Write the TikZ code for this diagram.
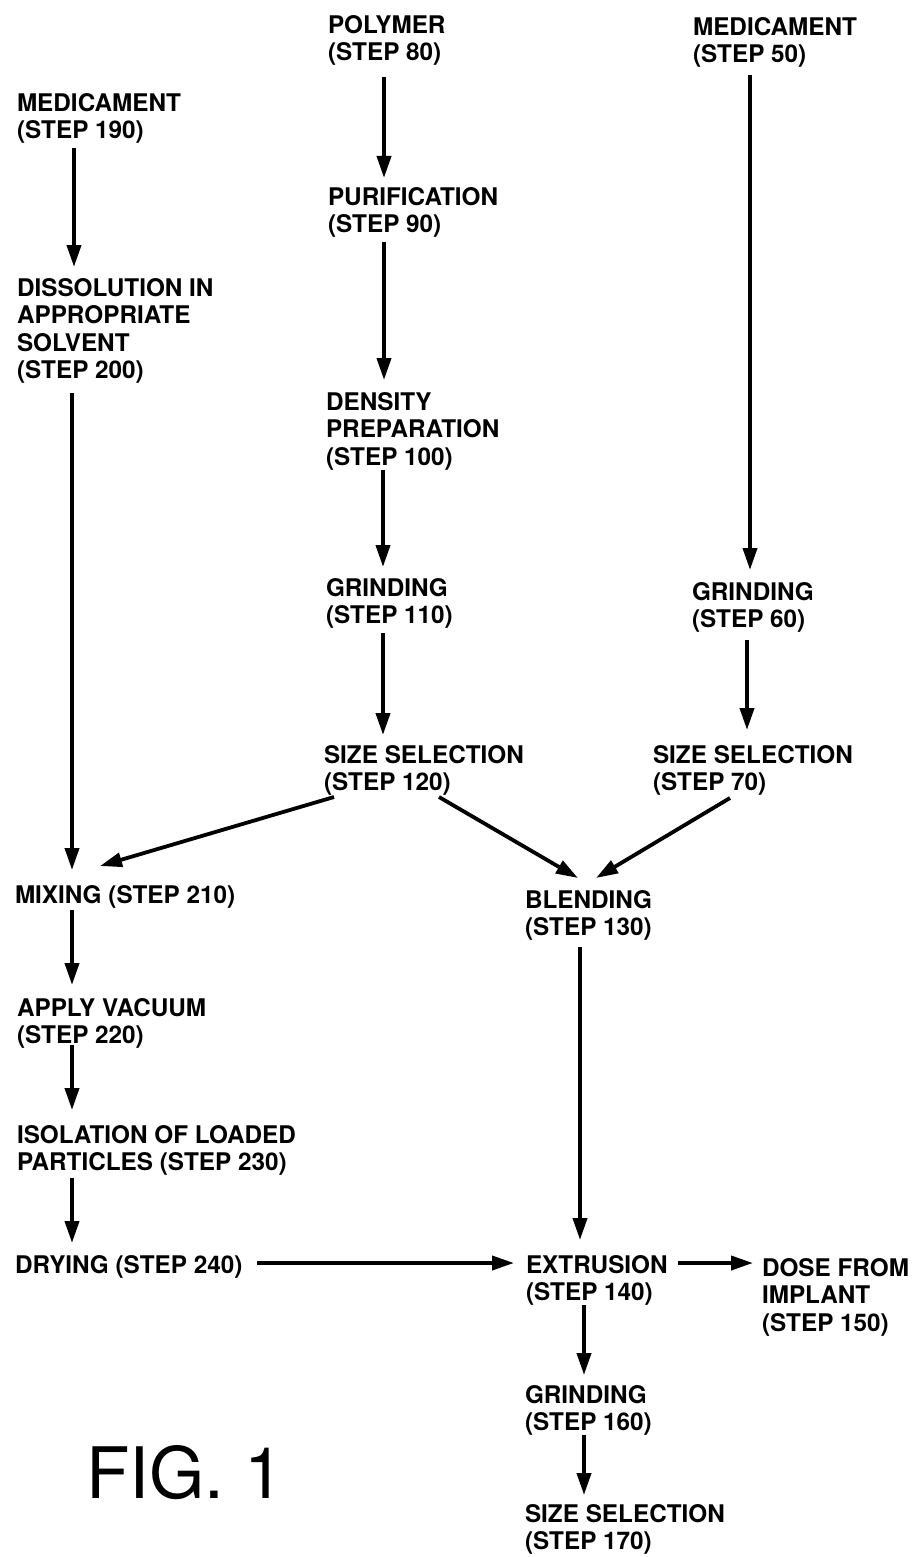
\documentclass[tikz,border=0pt]{standalone}
\usepackage{fontspec}
\setmainfont{TeX Gyre Heros}
\usetikzlibrary{arrows.meta}
\tikzset{
  lbl/.style={anchor=north west, inner sep=0pt, outer sep=0pt, align=left,
    font=\bfseries\fontsize{24.3}{27.5}\selectfont},
  arr/.style={line width=3.8pt, -{Triangle[length=22pt,width=14pt]}}
}
\begin{document}
\begin{tikzpicture}[x=1pt,y=-1pt]
\useasboundingbox (0,0) rectangle (911,1557);
% left column
\node[lbl] (m190) at (17,93) {MEDICAMENT\\(STEP 190)};
\node[lbl] (d200) at (17,278) {DISSOLUTION IN\\APPROPRIATE\\SOLVENT\\(STEP 200)};
\node[lbl] (mix210) at (15,885) {MIXING (STEP 210)};
\node[lbl] (vac220) at (17,998) {APPLY VACUUM\\(STEP 220)};
\node[lbl] (iso230) at (17,1125) {ISOLATION OF LOADED\\PARTICLES (STEP 230)};
\node[lbl] (dry240) at (15,1255) {DRYING (STEP 240)};
% middle column
\node[lbl] (poly80) at (328,15) {POLYMER\\(STEP 80)};
\node[lbl] (pur90) at (328,187) {PURIFICATION\\(STEP 90)};
\node[lbl] (den100) at (326,392) {DENSITY\\PREPARATION\\(STEP 100)};
\node[lbl] (gr110) at (326,578) {GRINDING\\(STEP 110)};
\node[lbl] (ss120) at (324,745) {SIZE SELECTION\\(STEP 120)};
% right column
\node[lbl] (med50) at (693,17) {MEDICAMENT\\(STEP 50)};
\node[lbl] (gr60) at (692,582) {GRINDING\\(STEP 60)};
\node[lbl] (ss70) at (653,745) {SIZE SELECTION\\(STEP 70)};
% lower middle
\node[lbl] (bl130) at (525,890) {BLENDING\\(STEP 130)};
\node[lbl] (ex140) at (526,1255) {EXTRUSION\\(STEP 140)};
\node[lbl] (dose150) at (762,1258) {DOSE FROM\\IMPLANT\\(STEP 150)};
\node[lbl] (gr160) at (525,1385) {GRINDING\\(STEP 160)};
\node[lbl] (ss170) at (525,1504) {SIZE SELECTION\\(STEP 170)};
% figure label
\node[anchor=north west, inner sep=0pt, font=\fontsize{71}{71}\selectfont] (fig) at (86,1445) {FIG. 1};
% arrows
\draw[arr] ([shift={(57,55)}]m190.north west) -- ([shift={(57,-11)}]d200.north west);
\draw[arr] ([shift={(55,115)}]d200.north west) -- ([shift={(57,-15)}]mix210.north west);
\draw[arr] ([shift={(57,25)}]mix210.north west) -- ([shift={(55,-13)}]vac220.north west);
\draw[arr] ([shift={(55,47)}]vac220.north west) -- ([shift={(55,-15)}]iso230.north west);
\draw[arr] ([shift={(55,53)}]iso230.north west) -- ([shift={(57,-12)}]dry240.north west);
\draw[arr] ([shift={(56,62)}]poly80.north west) -- ([shift={(56,-9)}]pur90.north west);
\draw[arr] ([shift={(56,55)}]pur90.north west) -- ([shift={(58,-12)}]den100.north west);
\draw[arr] ([shift={(57,78)}]den100.north west) -- ([shift={(57,-11)}]gr110.north west);
\draw[arr] ([shift={(57,55)}]gr110.north west) -- ([shift={(59,-10)}]ss120.north west);
\draw[arr] ([shift={(57,58)}]med50.north west) -- ([shift={(58,-12)}]gr60.north west);
\draw[arr] ([shift={(55,58)}]gr60.north west) -- ([shift={(94,-15)}]ss70.north west);
\draw[arr] ([shift={(10,52)}]ss120.north west) -- ([shift={(85,-19)}]mix210.north west);
\draw[arr] ([shift={(115,52)}]ss120.north west) -- ([shift={(53,-12)}]bl130.north west);
\draw[arr] ([shift={(77,53)}]ss70.north west) -- ([shift={(71,-12)}]bl130.north west);
\draw[arr] ([shift={(55,57)}]bl130.north west) -- ([shift={(54,-15)}]ex140.north west);
\draw[arr] ([shift={(242,8)}]dry240.north west) -- ([shift={(-12,8)}]ex140.north west);
\draw[arr] ([shift={(152,8)}]ex140.north west) -- ([shift={(-9,5)}]dose150.north west);
\draw[arr] ([shift={(58,50)}]ex140.north west) -- ([shift={(59,-10)}]gr160.north west);
\draw[arr] ([shift={(59,50)}]gr160.north west) -- ([shift={(59,-9)}]ss170.north west);
\end{tikzpicture}
\end{document}
